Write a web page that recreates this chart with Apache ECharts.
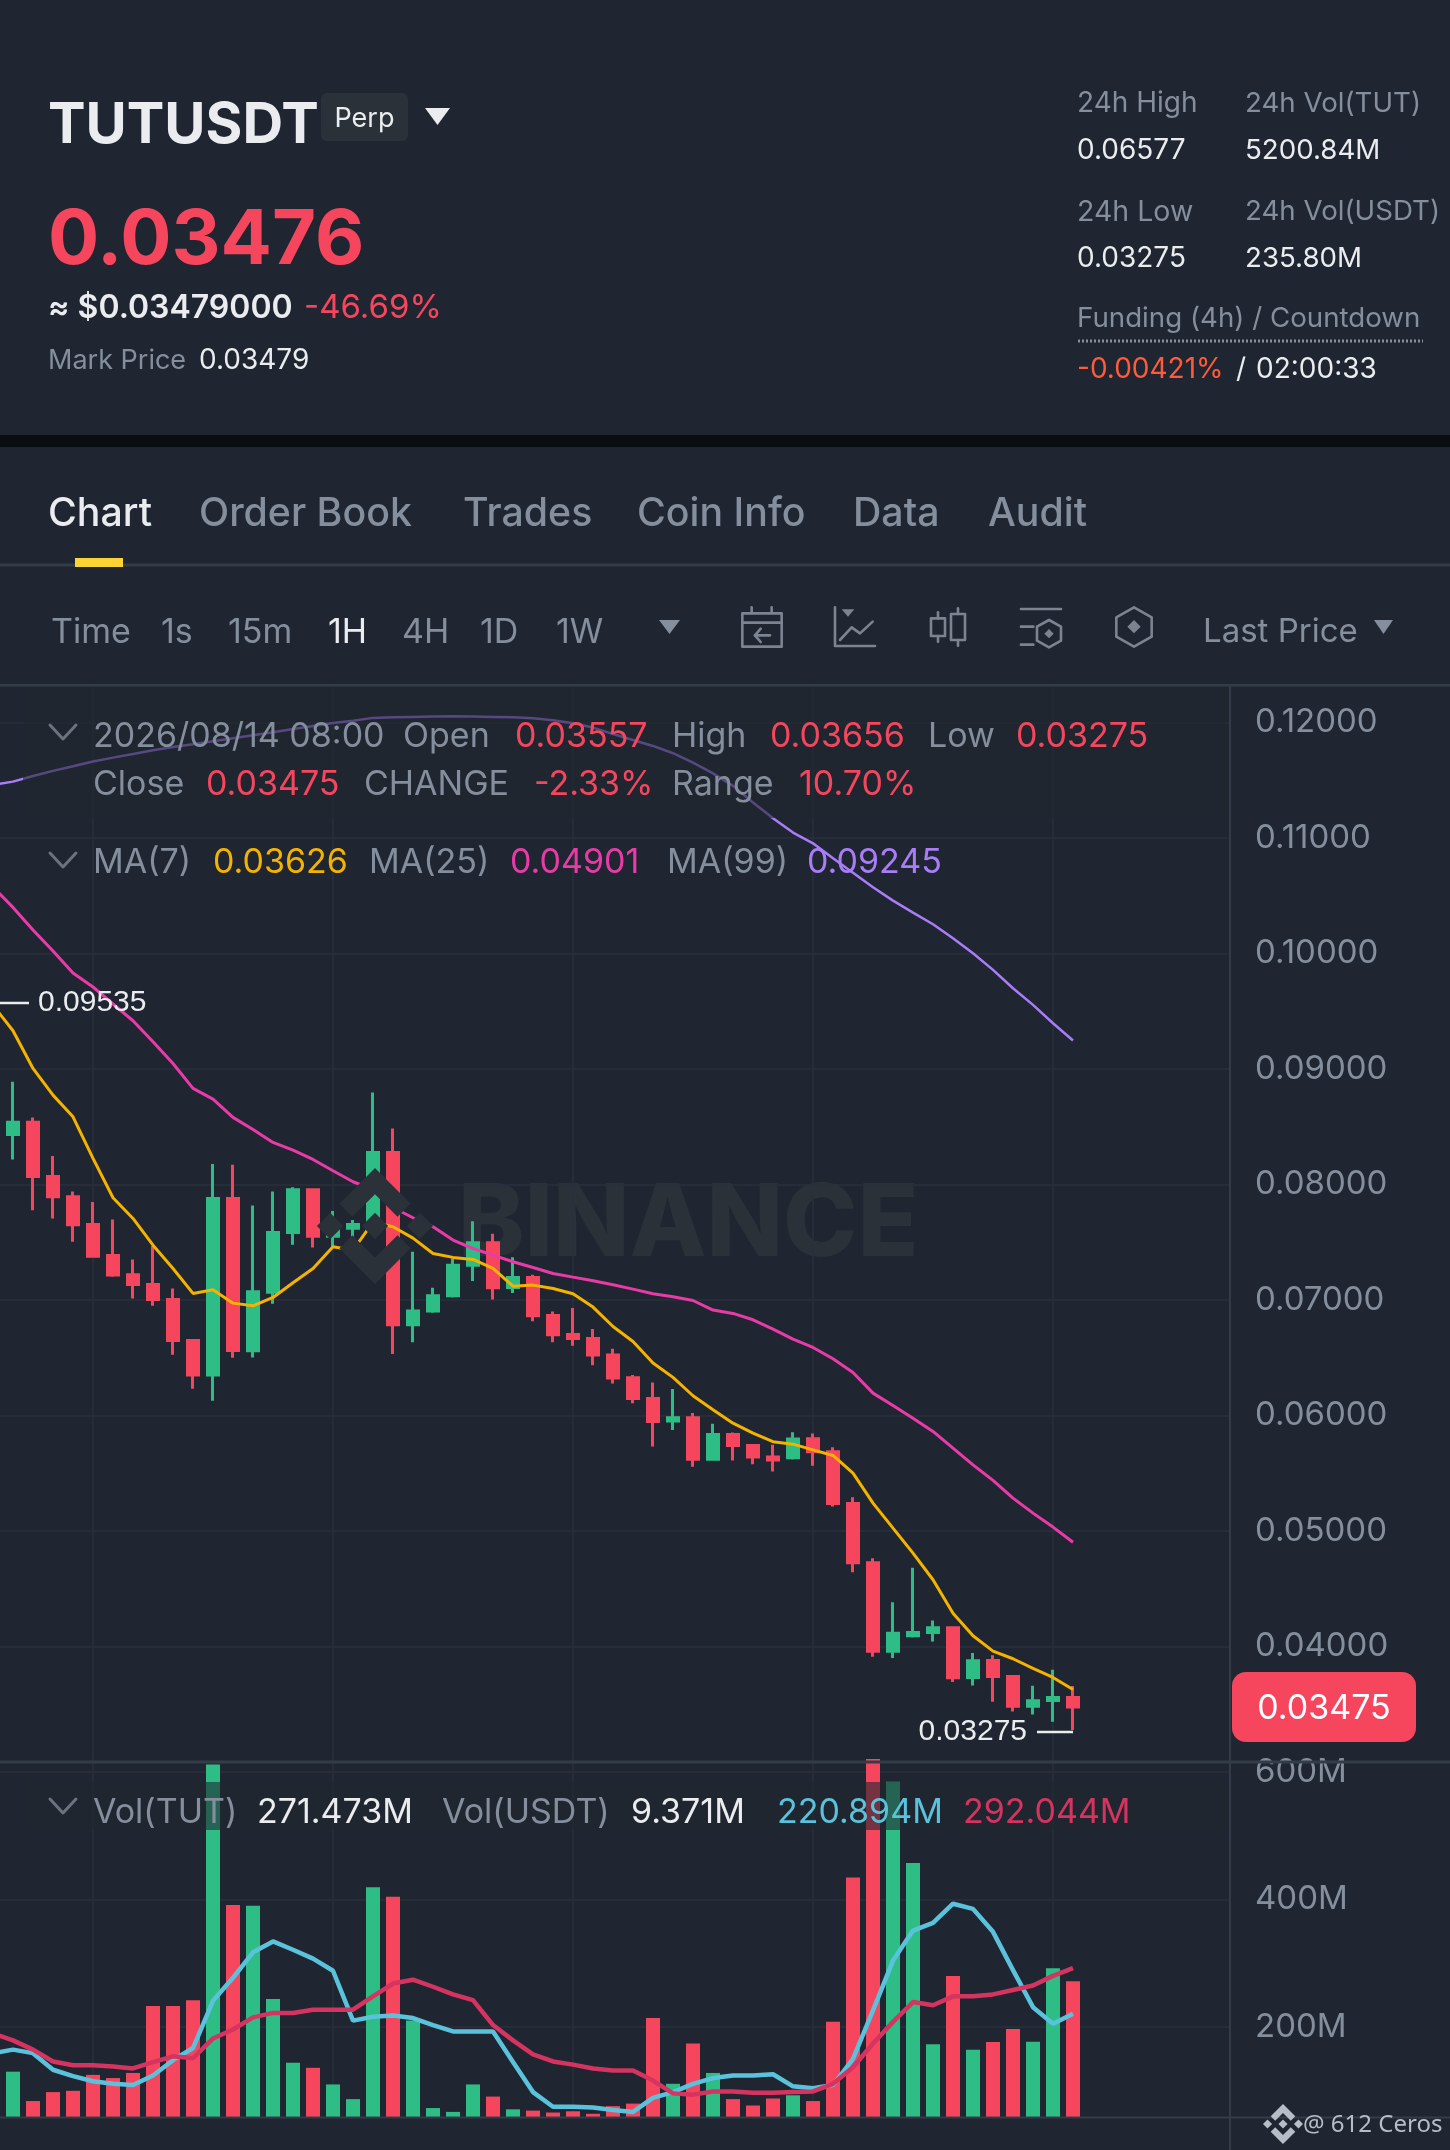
<!DOCTYPE html>
<html><head><meta charset="utf-8">
<style>html,body{margin:0;padding:0;background:#1F2631}#c{width:1450px;height:2150px}</style>
<script src="https://cdn.jsdelivr.net/npm/echarts@6/dist/echarts.min.js"></script>
</head><body><div id="c"></div>
<script>
// ---------- data ----------
const firstSlot = 7;           // hour slot of the first (partly hidden) candle
const opens = [0.0939,0.08431,0.08538,0.08068,0.07892,0.07652,0.07384,0.07216,0.07133,0.07003,0.06648,0.06348,0.07877,0.06558,0.07066,0.07583,0.07952,0.07551,0.0762,0.07649,0.08276,0.06784,0.06902,0.07035,0.073,0.07494,0.07107,0.07193,0.06864,0.067,0.06665,0.06521,0.06325,0.06146,0.0595,0.05978,0.0562,0.05834,0.05739,0.05638,0.05632,0.05797,0.05684,0.05237,0.04723,0.03958,0.04091,0.0412,0.0416,0.0373,0.03877,0.03739,0.03482,0.03531,0.03557];
const closes = [0.0844,0.08538,0.08068,0.07892,0.07649,0.07378,0.07214,0.07133,0.07003,0.06648,0.06348,0.07877,0.06561,0.07069,0.07583,0.07952,0.07551,0.07623,0.07652,0.08276,0.06784,0.06902,0.07035,0.073,0.07494,0.07104,0.07193,0.06861,0.06697,0.06665,0.06521,0.06322,0.06146,0.05947,0.05978,0.0562,0.05834,0.05739,0.05638,0.05612,0.05794,0.05684,0.05237,0.04723,0.03958,0.04114,0.0412,0.0416,0.03727,0.03874,0.03739,0.03482,0.03528,0.03557,0.03475];
const lows = [0.084,0.08215,0.07776,0.07704,0.07502,0.07367,0.07199,0.07012,0.06948,0.06524,0.06229,0.06126,0.06498,0.06501,0.06965,0.07476,0.07453,0.07459,0.07407,0.07603,0.0653,0.06633,0.06887,0.0702,0.07162,0.07003,0.07058,0.06815,0.06633,0.06602,0.06434,0.06276,0.06105,0.0573,0.05872,0.05554,0.05606,0.05609,0.05577,0.05514,0.05618,0.05563,0.05211,0.04642,0.03909,0.03898,0.04077,0.04042,0.0369,0.03661,0.03519,0.03436,0.0341,0.03346,0.03275];
const highs = [0.09535,0.08887,0.08579,0.08244,0.07938,0.07846,0.07696,0.07349,0.07465,0.07098,0.0666,0.08175,0.08169,0.07817,0.07938,0.07975,0.07964,0.07768,0.0769,0.08795,0.08483,0.07416,0.07104,0.07358,0.07681,0.07571,0.07369,0.07216,0.06899,0.06928,0.06746,0.06576,0.06348,0.06284,0.06227,0.06019,0.05926,0.05851,0.0575,0.05745,0.05854,0.05843,0.05724,0.05291,0.04763,0.04382,0.0468,0.04224,0.04172,0.03941,0.03923,0.0375,0.03658,0.03797,0.03656];
const ma7 = [0.0955,0.09329,0.09003,0.08772,0.08584,0.08224,0.07883,0.07704,0.07473,0.07271,0.07055,0.07087,0.06971,0.06948,0.0702,0.07147,0.07271,0.07459,0.0743,0.07672,0.07632,0.07534,0.07401,0.07367,0.07349,0.07271,0.07118,0.07127,0.07098,0.07052,0.06937,0.06769,0.06639,0.06452,0.06328,0.06169,0.06048,0.05932,0.05846,0.05771,0.0575,0.05701,0.05652,0.05499,0.0524,0.05023,0.04807,0.04576,0.04287,0.04091,0.03958,0.03892,0.03808,0.0373,0.03626];
const ma25 = [0.10574,0.10397,0.10202,0.1002,0.09829,0.09708,0.09561,0.09416,0.09234,0.09046,0.0883,0.08737,0.08579,0.08475,0.08362,0.08296,0.08215,0.08117,0.08022,0.07955,0.07799,0.0771,0.07632,0.07517,0.07444,0.07387,0.07329,0.0728,0.07228,0.07196,0.07165,0.0713,0.07092,0.07052,0.07026,0.06994,0.06911,0.06882,0.06827,0.06746,0.06659,0.06587,0.06489,0.06371,0.06192,0.06085,0.05975,0.0586,0.05716,0.05571,0.05436,0.05283,0.05153,0.05032,0.04901];
const ma99 = [0.11457,0.11486,0.11535,0.11579,0.11619,0.1166,0.11694,0.11726,0.11758,0.11786,0.1181,0.11836,0.11862,0.11888,0.11913,0.11942,0.11968,0.11994,0.12014,0.12038,0.12043,0.12046,0.12049,0.12052,0.12049,0.12046,0.12043,0.12035,0.12017,0.11991,0.11954,0.11899,0.11847,0.11795,0.11732,0.11651,0.11558,0.11449,0.11305,0.11169,0.11045,0.10952,0.10823,0.10698,0.10571,0.10456,0.10352,0.10251,0.1013,0.1,0.09856,0.09697,0.09553,0.09394,0.09245];
const volumes = [143,130,84,98,100,125,120,128,233,233,242,611,391,390,244,144,136,110,87,419,404,210,73,67,110,91,71,69,66,68,64,76,80,214,111,174,128,87,77,88,93,84,208,434,625,584,457,173,280,164.5,176.5,197,177,292,271.473];
const volMa5 = [159,164.5,159,133,123,115,111,109,124,148,167,241,277,317,334,321,307,288,210,216,218,214,203,193,193,193,145,98,75,75,74,70,67,89,98,111,120,124,124,126,107,104,109,150,226,304,351,363,393,385,349,289,231,205,220.894];
const volMa10 = [190,179,164.5,146,140,140,138,135,145,154,151,182,196,215,222,222,227,227,227,248,268,274,263,251,242,203,179,157,146,141,135,132,132,116,96,94,99,99,97,97,98,99,111,137,174,208,239,234,248,248,251,258,265,280,292.044];
const priceTicks = {min:0.03, max:0.12314, step:0.01};
const volTicks = {min:59, max:619.7};

// ---------- palette ----------
const BG='#1F2631', GRID='#2A313C', SEP='#353C49', UP='#2EBD85', DOWN='#F6465D', GREY='#848E9C', WHITE='#EAECEF';
const FONT='Inter';

const xs = opens.map((_,i)=>firstSlot+i);
const xSpec = {type:'value',min:0,max:68.85,interval:12,axisLabel:{show:false},axisLine:{show:false},axisTick:{show:false},
  splitLine:{show:true,lineStyle:{color:GRID,width:1.5}}};
const pairs = a => a.map((v,i)=>[xs[i],v]);

// ---------- decorative text and shapes ----------
const els=[];
function T(x,y,text,fill,size,weight,align,family){els.push({type:'text',x,y,z:60,silent:true,style:{text,fill,font:(weight||400)+' '+size+'px '+(family||FONT),textAlign:align||'left',textVerticalAlign:'middle',textBaseline:'middle'}});}
function R(x,y,w,h,fill,r,z,op){els.push({type:'rect',z:z||40,silent:true,shape:{x,y,width:w,height:h,r:r||0},style:{fill,opacity:op==null?1:op}});}
function L(pts,stroke,w,z,dash){els.push({type:'polyline',z:z||60,silent:true,shape:{points:pts},style:{stroke,lineWidth:w,fill:null,lineDash:dash||null,lineCap:dash?'butt':'round',lineJoin:'round'}});}
function P(pts,fill,z){els.push({type:'polygon',z:z||60,silent:true,shape:{points:pts},style:{fill}});}
function logo(cx,cy,h,fill,z){
  const k=h/63.3, m=p=>p.map(q=>[cx+q[0]*k,cy+q[1]*k]);
  P(m([[-24.6,-10.1],[0,-34.7],[24.6,-10.1],[38.9,-24.4],[0,-63.3],[-38.9,-24.4]]),fill,z);
  P(m([[-24.6,10.1],[0,34.7],[24.6,10.1],[38.9,24.4],[0,63.3],[-38.9,24.4]]),fill,z);
  [-49,0,49].forEach(d=>P(m([[d-14.4,0],[d,-14.4],[d+14.4,0],[d,14.4]]),fill,z));
}
// page bands
R(0,435,1450,12,'#0B0E11',0,1);
R(0,563.5,1450,3,SEP,0,1);
R(75,558,48,9,'#FCD535',0,2);
// header
T(48,126,'TUTUSDT',WHITE,56.3,700);
R(321,93,87,48,'#2B3139',6,2);
T(364.5,119,'Perp',WHITE,27,400,'center');
P([[425,108],[450,108],[437.5,125]],WHITE);
T(48,241,'0.03476',DOWN,76,700);
T(48,308,'≈ $0.03479000',WHITE,32,600);
T(304,308,'-46.69%',DOWN,33,400);
T(48,361,'Mark Price',GREY,27);
T(199,361,'0.03479',WHITE,28);
T(1077,104,'24h High',GREY,28); T(1245,104,'24h Vol(TUT)',GREY,27.7);
T(1077,151,'0.06577',WHITE,28); T(1245,151,'5200.84M',WHITE,27.7);
T(1077,212,'24h Low',GREY,28.5); T(1245,212,'24h Vol(USDT)',GREY,27.7);
T(1077,259,'0.03275',WHITE,28); T(1245,259,'235.80M',WHITE,27.7);
T(1077,319,'Funding (4h) / Countdown',GREY,27.7);
L([[1078,341],[1423,341]],GREY,3,60,[2,2]);
T(1077,370,'-0.00421%','#FF5B3A',28); T(1236,370,'/',WHITE,28); T(1256,370,'02:00:33',WHITE,28);
// tabs
[['Chart',48,WHITE],['Order Book',199,GREY],['Trades',463,GREY],['Coin Info',637,GREY],['Data',853,GREY],['Audit',988,GREY]]
  .forEach(t=>T(t[1],514.5,t[0],t[2],39.3,500));
// toolbar
[['Time',51],['1s',161],['15m',228],['1H',328,WHITE],['4H',402],['1D',480],['1W',556]]
  .forEach(t=>T(t[1],632.5,t[0],t[2]||GREY,34));
T(1203,632,'Last Price',GREY,33);
P([[659,620],[680,620],[669.5,634]],GREY); P([[1374,620],[1393,620],[1383.5,634]],GREY);
const IC='#7C8492', iz=(p)=>p.map(q=>[720+q[0]/3,590+q[1]/3]);
const ic=p=>L(iz(p),IC,2.6);
ic([[67,70],[185,70],[185,170],[67,170],[67,70]]); ic([[67,98],[185,98]]); ic([[95,52],[95,68]]); ic([[155,52],[155,68]]);
ic([[150,136],[105,136]]); ic([[122,116],[105,136],[122,156]]);
ic([[345,52],[345,168],[465,168]]); P(iz([[365,58],[403,58],[384,80]]),IC); ic([[360,150],[395,112],[420,130],[458,95]]);
ic([[633,85],[675,85],[675,138],[633,138],[633,85]]); ic([[654,67],[654,85]]); ic([[654,138],[654,155]]);
ic([[693,72],[735,72],[735,150],[693,150],[693,72]]); ic([[714,55],[714,72]]); ic([[714,150],[714,167]]);
ic([[903,57],[1023,57]]); ic([[903,110],[940,110]]); ic([[903,164],[940,164]]);
ic([[987,90],[1023,110],[1023,152],[987,172],[951,152],[951,110],[987,90]]); P(iz([[987,117],[1001,131],[987,145],[973,131]]),IC);
ic([[1242,52],[1295,82],[1295,140],[1242,170],[1189,140],[1189,82],[1242,52]]); P(iz([[1242,90],[1262,110],[1242,130],[1222,110]]),IC);
// watermark
T(458,1226,'BINANCE','#2B3139',100,800); els[els.length-1].z=0;
logo(375,1226,58,'#2B3139',0);
// legend dimming panels
R(23,686,1205,132,BG,0,20,0.6);
R(23,1782,1205,48,BG,0,20,0.6);
// separators
R(0,684,1450,2.5,SEP,0,30); R(0,1760.5,1450,3,SEP,0,30); R(0,2116.5,1450,2,SEP,0,30); R(1229,686,2,1464,SEP,0,30);
// legends
const chev=(y)=>L([[50,y-7],[63,y+7],[76,y-7]],'#6B7380',3);
chev(732); chev(860); chev(1806);
const FS=34;
[[93,'2026/08/14 08:00',GREY],[403,'Open',GREY],[515,'0.03557',DOWN],[672,'High',GREY],[770,'0.03656',DOWN],[928,'Low',GREY],[1016,'0.03275',DOWN]].forEach(t=>T(t[0],736.5,t[1],t[2],FS));
[[93,'Close',GREY],[206,'0.03475',DOWN],[364,'CHANGE',GREY],[534,'-2.33%',DOWN],[672,'Range',GREY],[799,'10.70%',DOWN]].forEach(t=>T(t[0],785,t[1],t[2],FS));
[[93,'MA(7)',GREY],[213,'0.03626','#F5B301'],[369,'MA(25)',GREY],[510,'0.04901','#E93BA8'],[667,'MA(99)',GREY],[807,'0.09245','#A97CF8']].forEach(t=>T(t[0],863,t[1],t[2],FS));
[[93,'Vol(TUT)',GREY],[257,'271.473M',WHITE],[442,'Vol(USDT)',GREY],[631,'9.371M',WHITE],[777,'220.894M','#5AC3DB'],[963,'292.044M','#D4345F']].forEach(t=>T(t[0],1812.5,t[1],t[2],FS));
// last price tag
R(1232,1672,184,70,DOWN,14,50);
T(1324,1709,'0.03475','#FFFFFF',34,400,'center');
// credit
logo(1283,2124,20,'#B7BDC6',60);
T(1303,2125,'@ 612 Ceros','#B7BDC6',24,400,'left','"Noto Sans"');

const markLabel={show:true,color:WHITE,fontFamily:'"Liberation Sans"',fontSize:30};
const option={
  animation:false, backgroundColor:BG,
  grid:[{left:-147,top:686,width:1377,height:1075.8,outerBoundsMode:'none'},{left:-147,top:1759,width:1377,height:358,outerBoundsMode:'none'}],
  xAxis:[Object.assign({gridIndex:0},xSpec),Object.assign({gridIndex:1},xSpec)],
  yAxis:[
   {gridIndex:0,type:'value',position:'right',min:priceTicks.min,max:priceTicks.max,interval:priceTicks.step,
    axisLine:{show:false},axisTick:{show:false},
    axisLabel:{color:GREY,fontFamily:FONT,fontSize:33,margin:25,showMinLabel:false,showMaxLabel:false,formatter:v=>v.toFixed(5)},
    splitLine:{show:true,showMinLine:false,showMaxLine:false,lineStyle:{color:GRID,width:1.5}}},
   {gridIndex:1,type:'value',position:'right',min:volTicks.min,max:volTicks.max,splitNumber:3,
    axisLine:{show:false},axisTick:{show:false},
    axisLabel:{color:GREY,fontFamily:FONT,fontSize:33,margin:25,showMinLabel:false,showMaxLabel:false,formatter:v=>Math.round(v)+'M'},
    splitLine:{show:true,showMinLine:false,showMaxLine:false,lineStyle:{color:GRID,width:1.5}}}
  ],
  series:[
   {type:'candlestick',xAxisIndex:0,yAxisIndex:0,z:3,barWidth:11,
    data:opens.map((o,i)=>[xs[i],o,closes[i],lows[i],highs[i]]),
    itemStyle:{color:UP,color0:DOWN,borderColor:UP,borderColor0:DOWN,borderWidth:3},
    markPoint:{silent:true,data:[
      {coord:[xs[0],highs[0]],symbol:'rect',symbolSize:[36,2.5],symbolOffset:[18,-4],itemStyle:{color:WHITE},label:Object.assign({position:'right',distance:9,formatter:highs[0].toFixed(5)},markLabel)},
      {coord:[xs[xs.length-1],lows[lows.length-1]],symbol:'rect',symbolSize:[36,2.5],symbolOffset:[-18,2],itemStyle:{color:WHITE},label:Object.assign({position:'left',distance:10,formatter:lows[lows.length-1].toFixed(5)},markLabel)}
    ]}},
   {type:'line',xAxisIndex:0,yAxisIndex:0,z:4,data:pairs(ma7),symbol:'none',lineStyle:{color:'#F5B301',width:3}},
   {type:'line',xAxisIndex:0,yAxisIndex:0,z:4,data:pairs(ma25),symbol:'none',lineStyle:{color:'#E93BA8',width:3}},
   {type:'line',xAxisIndex:0,yAxisIndex:0,z:4,data:pairs(ma99),symbol:'none',lineStyle:{color:'#A97CF8',width:2.5}},
   {type:'bar',xAxisIndex:1,yAxisIndex:1,z:3,barWidth:14,
    data:volumes.map((v,i)=>({value:[xs[i],v],itemStyle:{color:closes[i]>=opens[i]?UP:DOWN}}))},
   {type:'line',xAxisIndex:1,yAxisIndex:1,z:4,data:pairs(volMa5),symbol:'none',lineStyle:{color:'#5AC3DB',width:4.5}},
   {type:'line',xAxisIndex:1,yAxisIndex:1,z:5,data:pairs(volMa10),symbol:'none',lineStyle:{color:'#D4345F',width:4.5}}
  ],
  graphic:{elements:els}
};
const chart=echarts.init(document.getElementById('c'),null,{width:1450,height:2150,renderer:'canvas'});
chart.setOption(option);
</script></body></html>
